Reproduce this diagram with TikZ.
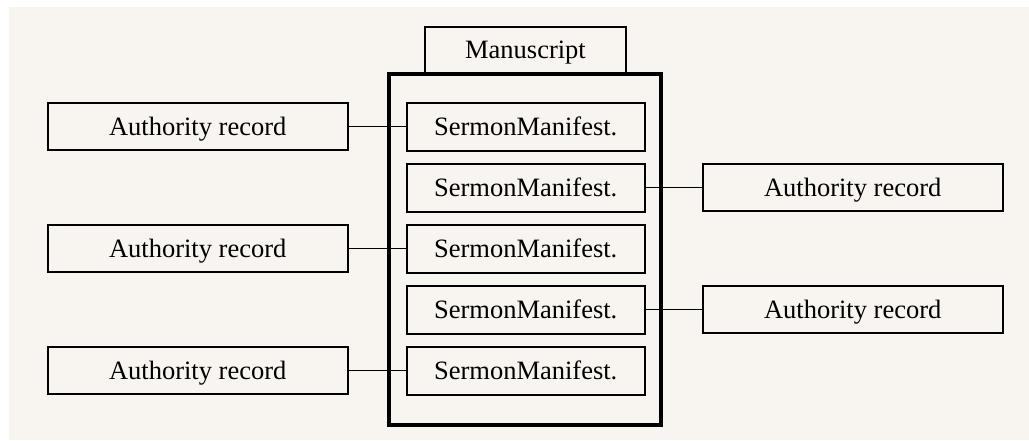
\documentclass[tikz,border=0pt]{standalone}
\usepackage{fontspec}
\setmainfont{Liberation Serif}
\usepackage{tikz}
\usetikzlibrary{positioning}
\definecolor{paper}{HTML}{F8F4EF}

\begin{document}
\begin{tikzpicture}[x=1pt, y=-1pt, font=\fontsize{26.5}{30}\selectfont,
  every node/.style={text height=17.5pt, text depth=0pt},
  sermon/.style={draw, line width=2pt, minimum width=238pt, minimum height=48pt, inner sep=0pt},
  authority/.style={draw, line width=2pt, minimum width=300pt, minimum height=47pt, inner sep=0pt},
  link/.style={line width=1.6pt}]
  \useasboundingbox (0,0) rectangle (1029,440);
  \fill[paper] (9,7) rectangle (1029,440);
  \node[draw, line width=2pt, minimum width=201pt, minimum height=46pt, inner sep=0pt, anchor=south] (tab) at (525.5,74) {Manuscript};
  \node[draw, line width=4.5pt, minimum width=272pt, minimum height=351pt, inner sep=0pt] (ms) at (525,249.5) {};
  \node[sermon] (s1) at (525.7,126.5) {SermonManifest.};
  \node[sermon, below=11pt of s1] (s2) {SermonManifest.};
  \node[sermon, below=11pt of s2] (s3) {SermonManifest.};
  \node[sermon, below=11pt of s3] (s4) {SermonManifest.};
  \node[sermon, below=11pt of s4] (s5) {SermonManifest.};
  \node[authority, left=57pt of s1] (a1) {Authority record};
  \node[authority, right=56pt of s2] (a2) {Authority record};
  \node[authority, left=57pt of s3] (a3) {Authority record};
  \node[authority, right=56pt of s4] (a4) {Authority record};
  \node[authority, left=57pt of s5] (a5) {Authority record};
  \foreach \i in {1,...,5}
    \draw[link] (a\i) -- (s\i);
\end{tikzpicture}
\end{document}
